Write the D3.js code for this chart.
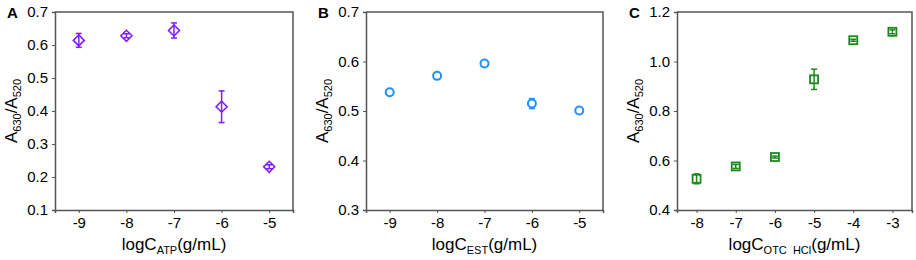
<!DOCTYPE html>
<html>
<head>
<meta charset="utf-8">
<script src="https://cdn.jsdelivr.net/npm/d3@7"></script>
<style>
  body { margin: 0; background: #fff; }
  svg { display: block; font-family: "Liberation Sans", Arial, sans-serif; }
  .axis path, .axis line { stroke: #555; }
  .axis text { fill: #000; }
</style>
</head>
<body>
<svg id="chart" width="916" height="260"></svg>
<script>
// panel A: ATP
const atpX = [-9, -8, -7, -6, -5];
const atpY = [0.614, 0.628, 0.644, 0.413, 0.231];
const atpErr = [0.021, 0.006, 0.023, 0.048, 0.006];
const atpTicks = [0.1, 0.2, 0.3, 0.4, 0.5, 0.6, 0.7];

// panel B: EST
const estX = [-9, -8, -7, -6, -5];
const estY = [0.538, 0.571, 0.596, 0.515, 0.501];
const estErr = [0.002, 0.002, 0.002, 0.010, 0.002];
const estTicks = [0.3, 0.4, 0.5, 0.6, 0.7];

// panel C: OTC HCl
const otcX = [-8, -7, -6, -5, -4, -3];
const otcY = [0.526, 0.576, 0.614, 0.928, 1.086, 1.120];
const otcErr = [0.020, 0.008, 0.004, 0.041, 0.004, 0.008];
const otcTicks = [0.4, 0.6, 0.8, 1.0, 1.2];

const svg = d3.select('#chart');
const top_ = 12, bottom = 210;

const panels = [
    { letter: 'A', left: 55, right: 293, xs: atpX, ys: atpY, errs: atpErr, yTicks: atpTicks,
      xDomain: [-9.5, -4.5], yDomain: [0.1, 0.7], color: '#7f1fff', shape: 'diamond', sub: 'ATP' },
    { letter: 'B', left: 366, right: 603, xs: estX, ys: estY, errs: estErr, yTicks: estTicks,
      xDomain: [-9.5, -4.5], yDomain: [0.3, 0.7], color: '#1e90ff', shape: 'circle', sub: 'EST' },
    { letter: 'C', left: 677, right: 912, xs: otcX, ys: otcY, errs: otcErr, yTicks: otcTicks,
      xDomain: [-8.5, -2.5], yDomain: [0.4, 1.2], color: '#1a8a1a', shape: 'square', sub: 'OTC  HCl' },
];

panels.forEach((p) => {
    const x = d3.scaleLinear().domain(p.xDomain).range([p.left, p.right]);
    const y = d3.scaleLinear().domain(p.yDomain).range([bottom, top_]);
    const g = svg.append('g');

    // axes
    g.append('g')
        .attr('class', 'axis')
        .attr('transform', `translate(0,${bottom})`)
        .call(d3.axisBottom(x).tickValues(p.xs).tickSize(3).tickPadding(4))
        .call((a) => a.select('.domain').attr('stroke-width', 1.5))
        .selectAll('text').attr('font-size', 15).text((d) => '-' + Math.abs(d));

    g.append('g')
        .attr('class', 'axis')
        .attr('transform', `translate(${p.left},0)`)
        .call(d3.axisLeft(y).tickValues(p.yTicks).tickFormat(d3.format('.1f')).tickSize(3).tickPadding(4))
        .call((a) => a.select('.domain').attr('stroke-width', 1.5))
        .selectAll('text').attr('font-size', 15);

    // top and right frame
    g.append('path')
        .attr('d', `M${p.left},${top_}H${p.right}V${bottom}`)
        .attr('fill', 'none')
        .attr('stroke', '#555')
        .attr('stroke-width', 1.5);

    // panel letter
    g.append('text')
        .attr('x', p.left - 48)
        .attr('y', 18)
        .attr('font-size', 15)
        .attr('font-weight', 'bold')
        .text(p.letter);

    // axis titles
    const xt = g.append('text')
        .attr('x', (p.left + p.right) / 2)
        .attr('y', 250)
        .attr('text-anchor', 'middle')
        .attr('font-size', 17);
    xt.append('tspan').text('logC');
    xt.append('tspan').attr('font-size', 11).attr('dy', 4).attr('xml:space', 'preserve').text(p.sub);
    xt.append('tspan').attr('dy', -4).text('(g/mL)');

    const yt = g.append('text')
        .attr('transform', `translate(${p.left - 38},${(top_ + bottom) / 2}) rotate(-90)`)
        .attr('text-anchor', 'middle')
        .attr('font-size', 17);
    yt.append('tspan').text('A');
    yt.append('tspan').attr('font-size', 11).attr('dy', 4).text('630');
    yt.append('tspan').attr('dy', -4).text('/A');
    yt.append('tspan').attr('font-size', 11).attr('dy', 4).text('520');

    // data
    const pts = p.xs.map((v, i) => ({ x: v, y: p.ys[i], e: p.errs[i] }));

    const err = g.append('g').attr('stroke', p.color).attr('stroke-width', 1.5);
    pts.forEach((d) => {
        const cx = x(d.x), y0 = y(d.y + d.e), y1 = y(d.y - d.e);
        err.append('line').attr('x1', cx).attr('x2', cx).attr('y1', y0).attr('y2', y1);
        err.append('line').attr('x1', cx - 3).attr('x2', cx + 3).attr('y1', y0).attr('y2', y0);
        err.append('line').attr('x1', cx - 3).attr('x2', cx + 3).attr('y1', y1).attr('y2', y1);
    });

    const marks = g.append('g');
    if (p.shape === 'diamond') {
        marks.selectAll('path').data(pts).join('path')
            .attr('d', (d) => {
                const cx = x(d.x), cy = y(d.y), r = 5.5;
                return `M${cx},${cy - r}L${cx + r},${cy}L${cx},${cy + r}L${cx - r},${cy}Z`;
            })
            .attr('fill', 'none').attr('stroke', p.color).attr('stroke-width', 1.6);
    } else if (p.shape === 'circle') {
        // circle markers hide their tiny error bars
        marks.selectAll('circle').data(pts).join('circle')
            .attr('cx', (d) => x(d.x)).attr('cy', (d) => y(d.y)).attr('r', 4)
            .attr('fill', '#fff').attr('stroke', p.color).attr('stroke-width', 2);
    } else {
        marks.selectAll('rect').data(pts).join('rect')
            .attr('x', (d) => x(d.x) - 4).attr('y', (d) => y(d.y) - 4)
            .attr('width', 8).attr('height', 8)
            .attr('fill', 'none').attr('stroke', p.color).attr('stroke-width', 1.8);
    }
});
</script>
</body>
</html>
